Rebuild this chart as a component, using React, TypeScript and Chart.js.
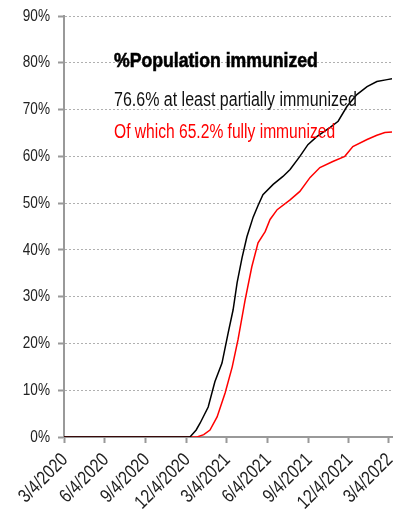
import { useEffect, useRef } from 'react';
import { Chart, registerables } from 'chart.js';

Chart.register(...registerables);

// Days since 3/4/2020
const tickDays = [0, 92, 184, 275, 365, 457, 549, 640, 730];
const tickLabels = ['3/4/2020', '6/4/2020', '9/4/2020', '12/4/2020', '3/4/2021', '6/4/2021', '9/4/2021', '12/4/2021', '3/4/2022'];
const yTicks = [0, 10, 20, 30, 40, 50, 60, 70, 80, 90];

const partialDays = [0, 283, 297, 306, 324, 339, 355, 369, 380, 389, 400, 411, 425, 436, 447, 470, 492, 508, 530, 548, 568, 598, 616, 636, 658, 681, 703, 726, 737];
const partialPct = [0, 0, 1.5, 3, 6.4, 11.8, 15.8, 22.3, 27.2, 33, 38.3, 42.8, 47, 49.5, 51.8, 54, 55.7, 57.2, 60, 62.5, 64.2, 66.2, 67.5, 70.7, 73.2, 74.9, 76, 76.4, 76.6];

const fullDays = [0, 299, 314, 328, 344, 362, 378, 391, 407, 422, 436, 452, 463, 479, 508, 530, 553, 575, 604, 631, 649, 681, 703, 721, 737];
const fullPct = [0, 0, 0.5, 1.5, 4.3, 9.4, 15, 20.8, 29.3, 36.4, 41.5, 43.9, 46.5, 48.6, 50.7, 52.5, 55.5, 57.6, 58.9, 60, 62.1, 63.6, 64.5, 65.1, 65.2];

const titleText = '%Population immunized';
const partialText = '76.6% at least partially immunized';
const fullText = 'Of which 65.2% fully immunized';

const FONT = "'Liberation Sans', Arial, sans-serif";

function narrowText(ctx: any, text: string, x: number, y: number, sx: number, stroke = 0) {
  ctx.save();
  ctx.translate(x, y);
  ctx.scale(sx, 1);
  if (stroke > 0) {
    ctx.lineWidth = stroke;
    ctx.strokeStyle = ctx.fillStyle;
    ctx.strokeText(text, 0, 0);
  }
  ctx.fillText(text, 0, 0);
  ctx.restore();
}

const labelPlugin = {
  id: 'narrowLabels',
  afterDraw(chart: any) {
    const { ctx, chartArea, scales } = chart;
    const xs = scales.x;
    const ys = scales.y;
    ctx.save();
    ctx.fillStyle = '#222';
    // y tick labels
    ctx.font = `17px ${FONT}`;
    ctx.textAlign = 'right';
    ctx.textBaseline = 'middle';
    yTicks.forEach((v) => {
      narrowText(ctx, v + '%', chartArea.left - 14, ys.getPixelForValue(v), 0.8);
    });
    // x tick labels, rotated 45 degrees
    ctx.font = `19px ${FONT}`;
    tickDays.forEach((d, i) => {
      const px = xs.getPixelForValue(d);
      ctx.save();
      ctx.translate(px + 1, chartArea.bottom + 20);
      ctx.rotate(-Math.PI / 4);
      ctx.scale(0.82, 1);
      ctx.textAlign = 'right';
      ctx.textBaseline = 'middle';
      ctx.fillText(tickLabels[i], 0, 0);
      ctx.restore();
    });
    // annotation text
    const x = chartArea.left + 50;
    ctx.textAlign = 'left';
    ctx.textBaseline = 'alphabetic';
    ctx.fillStyle = '#000';
    ctx.font = `bold 21px ${FONT}`;
    narrowText(ctx, titleText, x, chartArea.top + 51, 0.84, 0.6);
    ctx.font = `20px ${FONT}`;
    ctx.fillStyle = '#111';
    narrowText(ctx, partialText, x, chartArea.top + 90, 0.8);
    ctx.fillStyle = '#ff0000';
    narrowText(ctx, fullText, x, chartArea.top + 122, 0.78);
    ctx.restore();
  },
};

export default function App() {
  const ref = useRef<HTMLCanvasElement>(null);
  useEffect(() => {
    document.body.style.margin = '0';
    const chart = new Chart(ref.current!, {
      type: 'line',
      data: {
        datasets: [
          {
            label: 'partial',
            data: partialDays.map((d, i) => ({ x: d, y: partialPct[i] })),
            borderColor: '#000',
            borderWidth: 1.5,
            pointRadius: 0,
            tension: 0,
          },
          {
            label: 'full',
            data: fullDays.map((d, i) => ({ x: d, y: fullPct[i] })),
            borderColor: '#ff0000',
            borderWidth: 1.5,
            pointRadius: 0,
            tension: 0,
          },
        ],
      },
      options: {
        responsive: false,
        animation: false,
        layout: { padding: { top: 16, right: 10, left: 0, bottom: 0 } },
        plugins: { legend: { display: false }, tooltip: { enabled: false } },
        scales: {
          x: {
            type: 'linear',
            min: 0,
            max: 737,
            afterBuildTicks: (s: any) => {
              s.ticks = tickDays.map((v) => ({ value: v }));
            },
            afterFit: (s: any) => {
              s.height = 86;
            },
            ticks: { display: false, autoSkip: false },
            grid: { drawOnChartArea: false, drawTicks: true, tickLength: 6, tickColor: '#999', tickWidth: 2 },
            border: { color: '#999', width: 2 },
          },
          y: {
            min: 0,
            max: 90,
            afterBuildTicks: (s: any) => {
              s.ticks = yTicks.map((v) => ({ value: v }));
            },
            afterFit: (s: any) => {
              s.width = 64;
            },
            ticks: { display: false },
            grid: { color: '#b0b0b0', lineWidth: 1, tickLength: 6, tickColor: '#999', tickWidth: 2 },
            border: { color: '#999', width: 2, dash: [2, 2] },
          },
        },
      },
      plugins: [labelPlugin],
    });
    return () => chart.destroy();
  }, []);
  return <canvas ref={ref} width={402} height={523} style={{ display: 'block' }} />;
}
